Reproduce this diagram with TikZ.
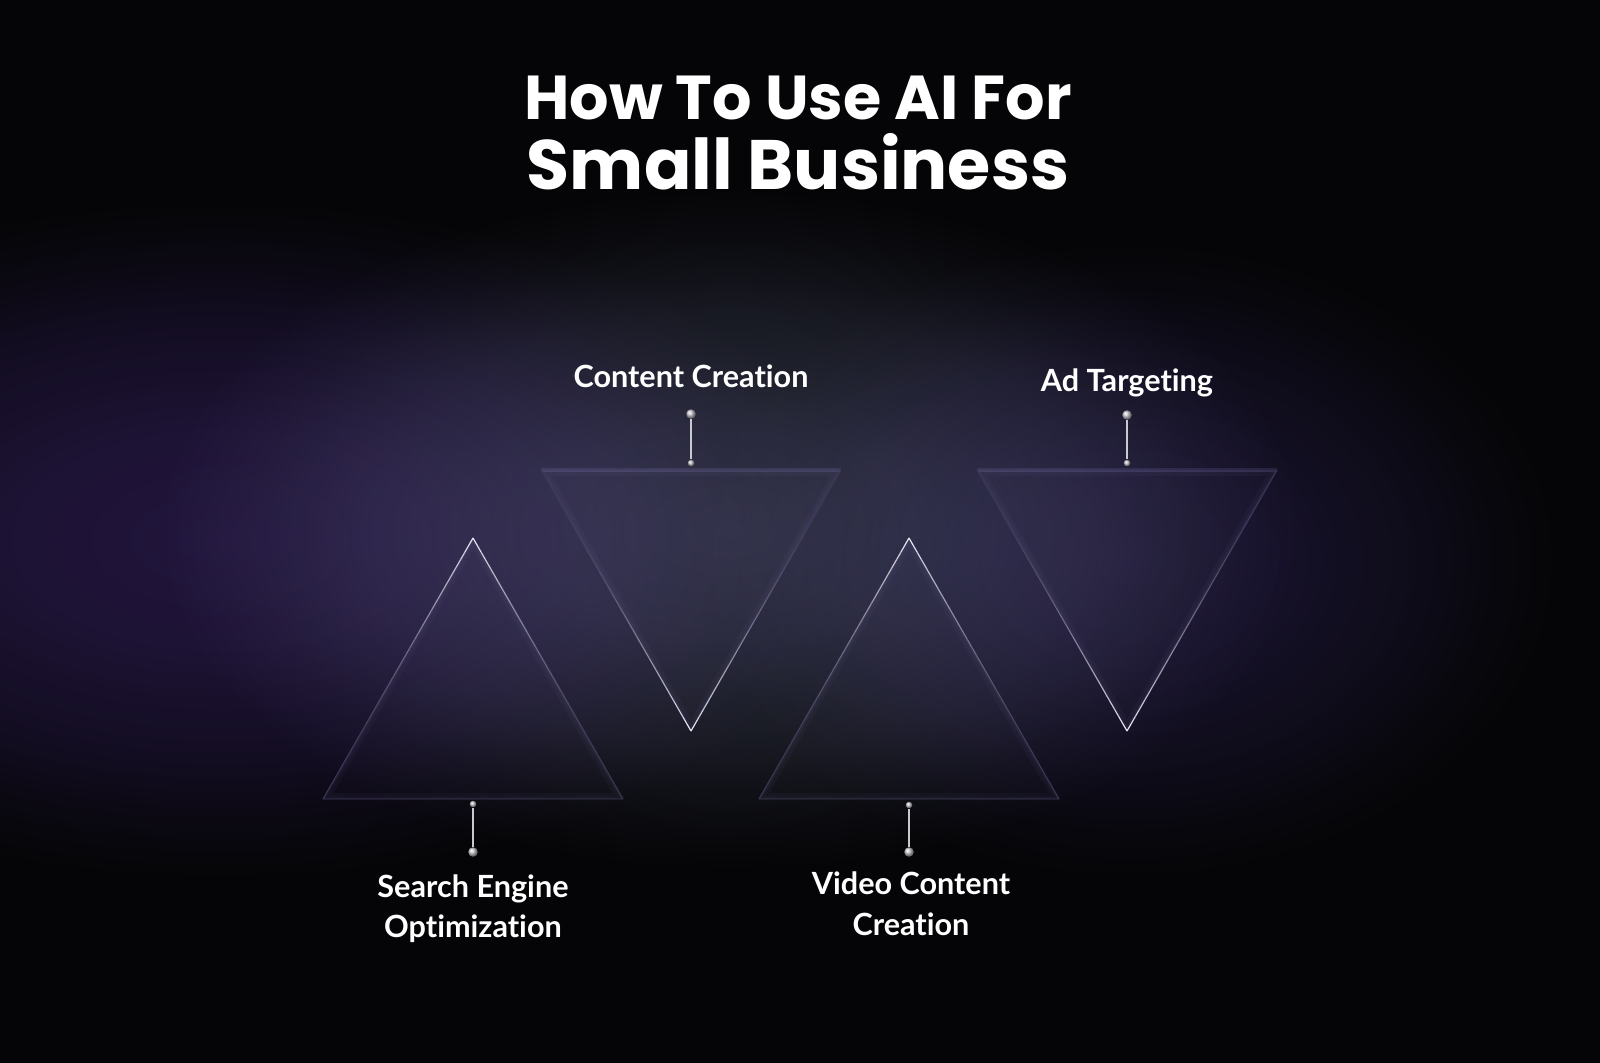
\documentclass[tikz,border=0pt]{standalone}
\usepackage{fontspec}
\setmainfont{Lato}[Ligatures=NoCommon]
\newfontfamily\titlefont{Poppins}
\usetikzlibrary{calc}
\definecolor{bgc}{HTML}{050507}
\definecolor{glowpurple}{HTML}{1C1036}
\definecolor{glowpurpleb}{HTML}{140E28}
\definecolor{glowgray}{HTML}{252836}
\definecolor{edgehi}{HTML}{EEECF8}
\definecolor{edgelo}{HTML}{3A3652}
\definecolor{lav}{HTML}{9A92D6}
\definecolor{stemc}{HTML}{C9C9CF}
\pgfdeclareradialshading{glowP}{\pgfpoint{0bp}{0bp}}{color(0bp)=(glowpurple); color(8bp)=(glowpurple!85!black); color(16bp)=(glowpurple!50!black); color(21bp)=(glowpurple!18!black); color(25bp)=(black); color(50bp)=(black)}
\pgfdeclareradialshading{glowQ}{\pgfpoint{0bp}{0bp}}{color(0bp)=(glowpurpleb); color(8bp)=(glowpurpleb!85!black); color(16bp)=(glowpurpleb!50!black); color(21bp)=(glowpurpleb!18!black); color(25bp)=(black); color(50bp)=(black)}
\pgfdeclareradialshading{glowG}{\pgfpoint{0bp}{0bp}}{color(0bp)=(glowgray); color(8bp)=(glowgray!85!black); color(16bp)=(glowgray!50!black); color(21bp)=(glowgray!18!black); color(25bp)=(black); color(50bp)=(black)}
\tikzset{
  titletext/.style={text=white, inner sep=0pt, anchor=base, font=\titlefont\bfseries},
  labeltext/.style={text=white, inner sep=0pt, anchor=base, font=\bfseries\fontsize{15.3}{18}\selectfont},
  bigball/.style={circle, inner sep=0pt, minimum size=4.8pt, shading=ball, ball color=stemc},
  smallball/.style={circle, inner sep=0pt, minimum size=3.3pt, shading=ball, ball color=stemc},
  stem/.style={draw=stemc, line width=0.9pt},
}
\newcommand{\gedge}[3]{%
  \foreach \i in {1,...,#3}{%
    \pgfmathtruncatemacro\edgemix{100*(1-(\i-0.5)/#3)^2.2}%
    \draw[line width=0.6pt, color=edgehi!\edgemix!edgelo] ($(#1)!{(\i-1)/#3}!(#2)$) -- ($(#1)!{\i/#3}!(#2)$);
  }}
\newcommand{\uptri}[2]{%
  \coordinate (#1a) at (#2,538);
  \coordinate (#1l) at ({#2-150},799);
  \coordinate (#1r) at ({#2+150},799);
  \fill[white, fill opacity=0.012] (#1a) -- (#1l) -- (#1r) -- cycle;
  \begin{scope}
    \clip (#1a) -- (#1l) -- (#1r) -- cycle;
    \draw[lav, line width=6pt, opacity=0.045] (#1a) -- (#1l) -- (#1r) -- cycle;
    \draw[lav, line width=2.5pt, opacity=0.05] (#1a) -- (#1l) -- (#1r) -- cycle;
  \end{scope}
  \draw[edgelo, line width=0.8pt, opacity=0.4] (#1l) -- (#1r);
  \gedge{#1a}{#1l}{36}
  \gedge{#1a}{#1r}{36}
}
\newcommand{\downtri}[2]{%
  \coordinate (#1a) at (#2,731);
  \coordinate (#1l) at ({#2-150},470);
  \coordinate (#1r) at ({#2+150},470);
  \fill[white, fill opacity=0.012] (#1a) -- (#1l) -- (#1r) -- cycle;
  \begin{scope}
    \clip (#1a) -- (#1l) -- (#1r) -- cycle;
    \draw[lav, line width=6pt, opacity=0.045] (#1a) -- (#1l) -- (#1r) -- cycle;
    \draw[lav, line width=2.5pt, opacity=0.05] (#1a) -- (#1l) -- (#1r) -- cycle;
  \end{scope}
  \draw[lav, line width=1.6pt, opacity=0.14] (#1l) -- (#1r);
  \gedge{#1a}{#1l}{36}
  \gedge{#1a}{#1r}{36}
}
\begin{document}
\begin{tikzpicture}[x=0.5pt, y=-0.5pt]
\useasboundingbox (0,0) rectangle (1600,1063);
% background
\fill[bgc] (0,0) rectangle (1600,1063);
\begin{scope}[blend mode=screen]
\shade[shading=glowP] (-420,200) rectangle (860,880);
\shade[shading=glowQ] (700,240) rectangle (1560,880);
\shade[shading=glowG] (160,190) rectangle (1300,870);
\end{scope}
% title
\node[titletext, font=\titlefont\bfseries\fontsize{31}{36}\selectfont] (title1) at (798,120) {How To Use AI For};
\node[titletext, font=\titlefont\bfseries\fontsize{35}{42}\selectfont] (title2) at (798,190) {Small Business};
% triangles
\uptri{T1}{473}
\downtri{T2}{691}
\uptri{T3}{909}
\downtri{T4}{1127}
% connectors
\node[bigball] (cctop) at (691,414) {};
\node[smallball] (ccbot) at (691,463) {};
\draw[stem] (cctop) -- (ccbot);
\node[bigball] (adtop) at (1127,415) {};
\node[smallball] (adbot) at (1127,463) {};
\draw[stem] (adtop) -- (adbot);
\node[smallball] (seotop) at (473,804) {};
\node[bigball] (seobot) at (473,852) {};
\draw[stem] (seotop) -- (seobot);
\node[smallball] (vidtop) at (909,805) {};
\node[bigball] (vidbot) at (909,852) {};
\draw[stem] (vidtop) -- (vidbot);
% labels
\node[labeltext] (cclabel) at (691,388) {Content Creation};
\node[labeltext] (adlabel) at (1127,392) {Ad Targeting};
\node[labeltext] (seolabel1) at (473,897) {Search Engine};
\node[labeltext] (seolabel2) at (473,937) {Optimization};
\node[labeltext] (vidlabel1) at (911,894) {Video Content};
\node[labeltext] (vidlabel2) at (911,935) {Creation};
\end{tikzpicture}
\end{document}
